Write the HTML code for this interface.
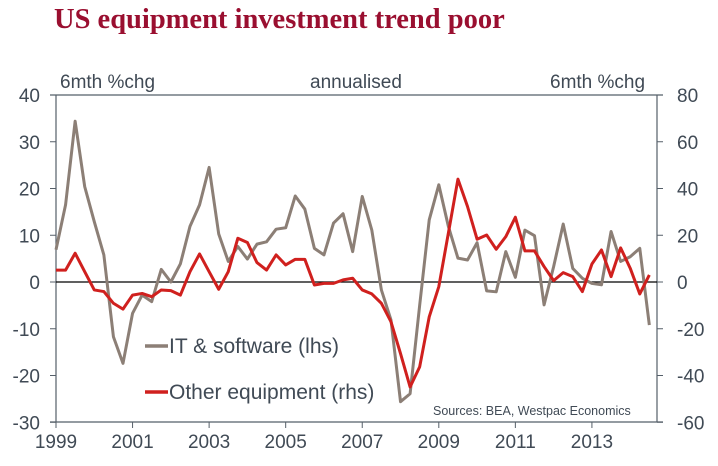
<!DOCTYPE html>
<html><head><meta charset="utf-8"><style>
html,body{margin:0;padding:0;background:#fff;width:718px;height:466px;overflow:hidden}
svg{display:block}
text{font-family:"Liberation Sans",sans-serif;fill:#404a55}
</style></head><body>
<svg id="chart" width="718" height="466">
<text x="54" y="28" style="font-family:'Liberation Serif',serif;font-weight:bold;font-size:28.5px;fill:#9a0f30">US equipment investment trend poor</text>
<text x="60" y="88" font-size="19">6mth %chg</text>
<text x="310" y="88" font-size="19">annualised</text>
<text x="550" y="88" font-size="19">6mth %chg</text>
<g id="axes"></g>
<g id="series"></g>
<g>
<line x1="145" y1="346" x2="168" y2="346" stroke="#8c7f76" stroke-width="3.5"/>
<text x="169" y="353" font-size="21">IT &amp; software (lhs)</text>
<line x1="145" y1="392" x2="168" y2="392" stroke="#d0201e" stroke-width="3.5"/>
<text x="169" y="399" font-size="21">Other equipment (rhs)</text>
</g>
<text x="433" y="415" font-size="12.5">Sources: BEA, Westpac Economics</text>
</svg>
<script>
const leftTicks=[40,30,20,10,0,-10,-20,-30];
const rightTicks=[80,60,40,20,0,-20,-40,-60];
const yearLabels=[1999,2001,2003,2005,2007,2009,2011,2013];
const itSoftware=[6.9,16.5,34.4,20.4,12.9,5.8,-11.7,-17.4,-6.7,-2.8,-4.2,2.7,0,3.9,11.9,16.5,24.5,10.3,4.4,7.6,4.9,8.1,8.6,11.3,11.6,18.4,15.6,7.2,5.8,12.6,14.6,6.5,18.3,11.1,-1.7,-8.1,-25.6,-23.9,-5,13.3,20.8,11.9,5.1,4.7,8.4,-1.9,-2.1,6.5,1.0,11.1,9.9,-4.9,3.3,12.4,2.9,0.8,-0.3,-0.6,10.8,4.4,5.4,7.2,-9.2];
const otherEquipment=[5.1,5.1,12.3,4.4,-3.4,-4.1,-9.1,-11.6,-5.6,-4.9,-6.3,-3.4,-3.7,-5.6,4.4,12,4.4,-3.1,4.4,18.7,16.9,8.3,5.1,11.6,7.3,9.7,9.7,-1.3,-0.6,-0.6,0.9,1.6,-3.4,-5.1,-9.1,-17,-30.6,-44.9,-36.3,-14.9,-2,20.9,44,32.3,18.3,20.1,14,19.4,27.7,13.3,13.3,6.6,0.6,4,2.3,-4.1,7.7,13.7,2.3,14.6,5.9,-5.1,3];
const NS='http://www.w3.org/2000/svg';
const X0=56,X1=657,startYear=1999,pxYear=38.28;
function xq(i){return X0+i*pxYear/4;}
function xYear(y){return X0+(y-startYear)*pxYear;}
function yL(v){return 282-v*4.675;}
function yR(v){return 282-v*2.3375;}
function mk(tag,attrs,parent){const e=document.createElementNS(NS,tag);for(const k in attrs)e.setAttribute(k,attrs[k]);parent.appendChild(e);return e;}
const ax=document.getElementById('axes');
let e;
e=mk('line',{x1:X0,y1:95,x2:X0,y2:422,stroke:'#555f69','stroke-width':1.2},ax);


e=mk('line',{x1:X1,y1:95,x2:X1,y2:422,stroke:'#555f69','stroke-width':1.2},ax);


e=mk('line',{x1:50,y1:95,x2:X1+6,y2:95,stroke:'#555f69','stroke-width':1.2},ax);


e=mk('line',{x1:50,y1:422,x2:X1+6,y2:422,stroke:'#555f69','stroke-width':1.2},ax);


e=mk('line',{x1:X0,y1:yL(0),x2:X1,y2:yL(0),stroke:'#000','stroke-width':1.2},ax);


leftTicks.forEach(v=>{
 mk('line',{x1:50,y1:yL(v),x2:X0,y2:yL(v),stroke:'#555f69'},ax);
 const t=mk('text',{x:40,y:yL(v)+7,'text-anchor':'end','font-size':19},ax);t.textContent=v;
 
 
});
rightTicks.forEach(v=>{
 mk('line',{x1:X1,y1:yR(v),x2:X1+6,y2:yR(v),stroke:'#555f69'},ax);
 const t=mk('text',{x:677,y:yR(v)+7,'font-size':19},ax);t.textContent=v;
 
 
});
yearLabels.forEach(y=>{
 const x=xYear(y);
 mk('line',{x1:x,y1:422,x2:x,y2:428,stroke:'#555f69'},ax);
 const t=mk('text',{x:x,y:448,'text-anchor':'middle','font-size':19},ax);t.textContent=y;
 
 
});
const sg=document.getElementById('series');
function line(data,yf,color,name){
 const p=mk('polyline',{points:data.map((v,i)=>xq(i)+','+yf(v)).join(' '),fill:'none',stroke:color,'stroke-width':3,'stroke-linejoin':'round'},sg);
 
 
}
line(itSoftware,yL,'#8c7f76','it-software-line');
line(otherEquipment,yR,'#d0201e','other-equipment-line');
</script>
</body></html>
